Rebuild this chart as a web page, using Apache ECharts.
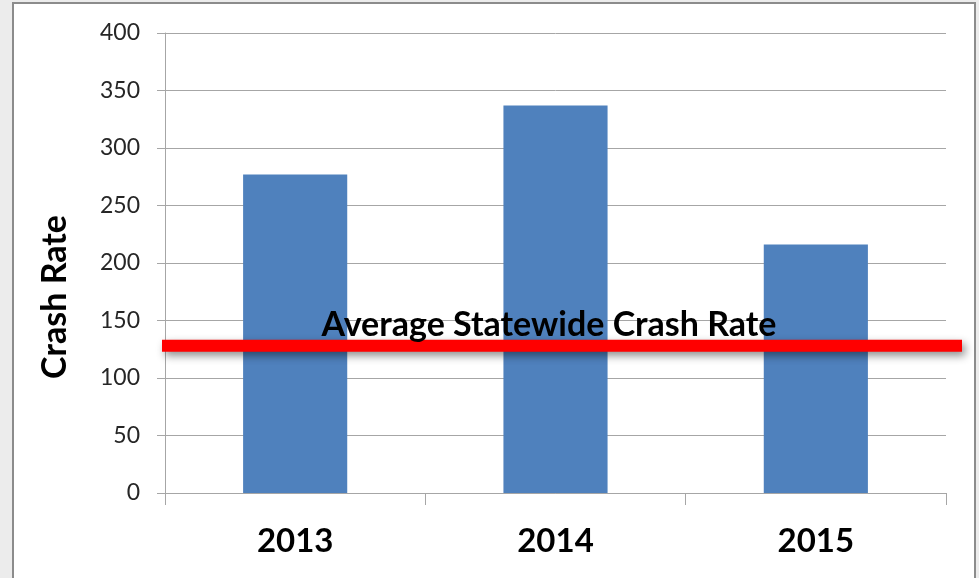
<!DOCTYPE html>
<html>
<head>
<meta charset="utf-8">
<script src="https://cdn.jsdelivr.net/npm/echarts@6/dist/echarts.min.js"></script>
<style>
  html, body { margin: 0; padding: 0; background: #ececec; }
  #main { width: 979px; height: 578px; }
</style>
</head>
<body>
<div id="main"></div>
<script>
// data
const years = ['2013', '2014', '2015']
const crashRate = [277, 337, 216]
const statewideAverage = 128
const avgLabel = 'Average Statewide Crash Rate'
const yTitle = 'Crash Rate'

const myChart = echarts.init(document.getElementById('main'))

const option = {
  backgroundColor: '#ececec',
  animation: false,
  grid: { left: 165, right: 33, top: 33, bottom: 85 },
  xAxis: {
    type: 'category',
    data: years,
    axisLine: { lineStyle: { color: '#a6a6a6', width: 1 } },
    axisTick: { show: true, length: 12, lineStyle: { color: '#a6a6a6' } },
    axisLabel: {
      color: '#000',
      fontFamily: 'Lato',
      fontWeight: 'bold',
      fontSize: 33,
      margin: 32
    }
  },
  yAxis: {
    type: 'value',
    min: 0,
    max: 400,
    interval: 50,
    axisLine: { show: true, lineStyle: { color: '#a6a6a6' } },
    axisTick: { show: true, length: 8, inside: false, lineStyle: { color: '#a6a6a6' } },
    splitLine: { lineStyle: { color: '#a6a6a6' } },
    axisLabel: {
      color: '#262626',
      fontFamily: 'Lato',
      fontSize: 23,
      margin: 25
    }
  },
  series: [
    {
      name: 'Crash Rate',
      type: 'bar',
      data: crashRate,
      barWidth: '40%',
      itemStyle: { color: '#4f81bd' }
    }
  ]
}

option && myChart.setOption(option)

// red average line drawn across the plot, positioned from the y scale
const lineY = myChart.convertToPixel({ yAxisIndex: 0 }, statewideAverage)
myChart.setOption({
  graphic: [
    {
      type: 'rect',
      z: -10,
      silent: true,
      shape: { x: 13, y: 3, width: 962, height: 600 },
      style: { fill: '#fff', stroke: '#8c8c8c', lineWidth: 2 }
    },
    {
      // y axis title sits a bit below the plot middle in the original
      type: 'text',
      z: 60,
      x: 55,
      y: 297,
      rotation: Math.PI / 2,
      style: {
        text: yTitle,
        fill: '#000',
        fontFamily: 'Lato',
        fontWeight: 'bold',
        fontSize: 34,
        align: 'center',
        verticalAlign: 'middle'
      }
    },
    {
      type: 'line',
      z: 50,
      shape: { x1: 162, y1: lineY, x2: 962, y2: lineY },
      style: {
        stroke: '#ff0000',
        lineWidth: 12,
        shadowBlur: 8,
        shadowOffsetX: 3,
        shadowOffsetY: 4,
        shadowColor: 'rgba(0,0,0,0.45)'
      }
    },
    {
      type: 'text',
      z: 60,
      x: 549,
      y: lineY - 21,
      style: {
        text: avgLabel,
        fill: '#000',
        fontFamily: 'Lato',
        fontWeight: 'bold',
        fontSize: 34,
        align: 'center',
        verticalAlign: 'middle'
      }
    }
  ]
})
</script>
</body>
</html>
